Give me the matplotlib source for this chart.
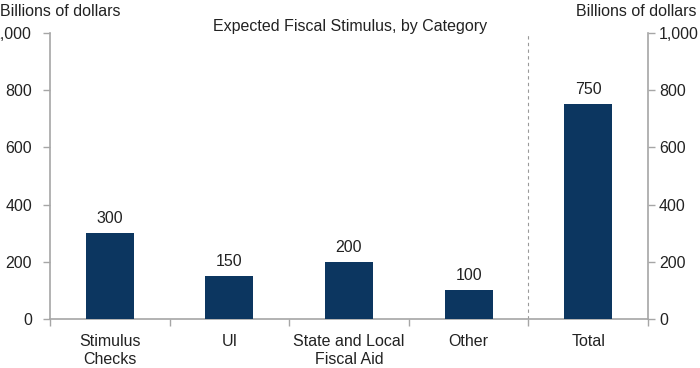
import matplotlib
matplotlib.use("Agg")
import matplotlib.pyplot as plt
from matplotlib.ticker import FuncFormatter, FixedLocator

plt.rcParams["font.family"] = ["Liberation Sans", "DejaVu Sans"]

categories = ["Stimulus\nChecks", "UI", "State and Local\nFiscal Aid", "Other", "Total"]
values = [300, 150, 200, 100, 750]
yticks = [0, 200, 400, 600, 800, 1000]

BAR = "#0c3660"
GREY = "#a6a6a6"
TXT = "#222222"
FS = 11.5

fig = plt.figure(figsize=(7, 3.68), dpi=100)
ax = fig.add_axes([50 / 700, 1 - 319 / 368, 598 / 700, 286 / 368])

x = list(range(len(categories)))
ax.bar(x, values, width=0.4, color=BAR, zorder=3)
for xi, v in zip(x, values):
    ax.text(xi, v + 25, f"{v}", ha="center", va="bottom", fontsize=FS, color=TXT)

ax.set_xlim(-0.5, len(categories) - 0.5)
ax.set_ylim(0, 1000)

# dashed separator between components and total
ax.axvline(3.5, color="#999999", linestyle=(0, (3, 3)), linewidth=0.8)

fmt = FuncFormatter(lambda v, p: f"{int(v):,}")
ax.set_yticks(yticks)
ax.yaxis.set_major_formatter(fmt)
ax.tick_params(axis="y", direction="out", length=5, color=GREY, labelsize=FS,
               labelcolor=TXT, width=1, pad=8)

ax.set_xticks(x)
ax.set_xticklabels(categories, linespacing=1.25)
ax.xaxis.set_minor_locator(FixedLocator([i - 0.5 for i in range(len(categories) + 1)]))
ax.tick_params(axis="x", which="major", length=0, labelsize=FS, labelcolor=TXT, pad=11)
ax.tick_params(axis="x", which="minor", direction="out", length=5, color=GREY, width=1)

for side in ["top", "right"]:
    ax.spines[side].set_visible(False)
for side in ["left", "bottom"]:
    ax.spines[side].set_color(GREY)
    ax.spines[side].set_linewidth(1.2)

ax2 = ax.twinx()
ax2.set_ylim(0, 1000)
ax2.set_yticks(yticks)
ax2.yaxis.set_major_formatter(fmt)
ax2.tick_params(axis="y", direction="out", length=5, color=GREY, labelsize=FS,
                labelcolor=TXT, width=1, pad=3)
for side in ["top", "left", "bottom"]:
    ax2.spines[side].set_visible(False)
ax2.spines["right"].set_color(GREY)
ax2.spines["right"].set_linewidth(1.2)

fig.text(0 / 700, 1 - 11 / 368, "Billions of dollars", ha="left", va="center", fontsize=FS, color=TXT)
fig.text(697 / 700, 1 - 11 / 368, "Billions of dollars", ha="right", va="center", fontsize=FS, color=TXT)
fig.text(350 / 700, 1 - 27 / 368, "Expected Fiscal Stimulus, by Category", ha="center", va="center",
         fontsize=FS, color=TXT)

fig.savefig("out.png", dpi=100)
